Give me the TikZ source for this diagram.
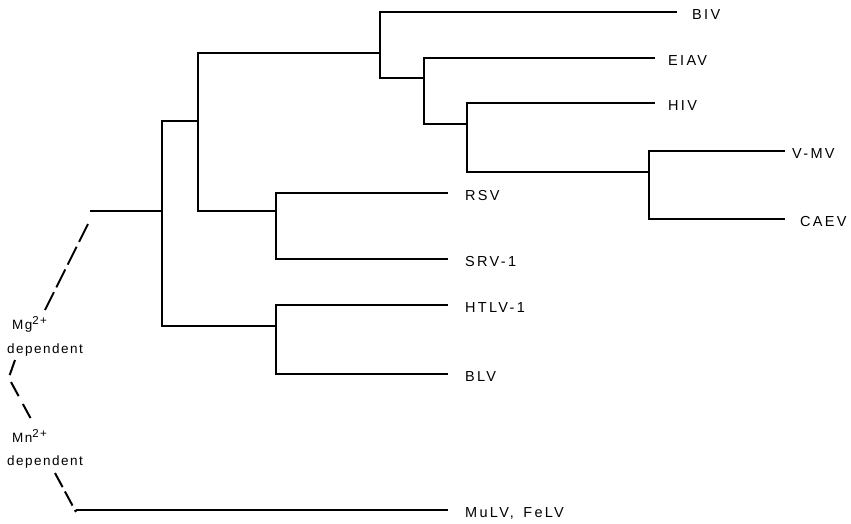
\documentclass[tikz,border=0pt]{standalone}
\usepackage{fontspec}
\setmainfont{Liberation Sans}[LetterSpace=16]
\newcommand{\supx}[1]{\raisebox{5pt}{\fontsize{11.5}{11.5}\selectfont #1}}
\begin{document}
\begin{tikzpicture}[x=1pt,y=-1pt,
  br/.style={line width=2pt},
  dsh/.style={line width=2pt,dash pattern=on 20pt off 5.4pt},
  lab/.style={anchor=base west,inner sep=0pt,font=\fontsize{14.5}{16}\selectfont},
  sm/.style={anchor=base west,inner sep=0pt,font=\fontsize{13.5}{15}\selectfont\addfontfeature{LetterSpace=11}}]
\useasboundingbox (0,0) rectangle (851,523);
% junctions
\coordinate (r0) at (90,211);
\coordinate (j1) at (162,211);
\coordinate (j2) at (198,121);
\coordinate (j3) at (380,53);
\coordinate (j4) at (424,78);
\coordinate (j5) at (467,124);
\coordinate (j6) at (649,172);
\coordinate (j7) at (276,211);
\coordinate (j8) at (276,326);
% leaf ends
\coordinate (eBIV) at (677,12);
\coordinate (eEIAV) at (655,58);
\coordinate (eHIV) at (655,103);
\coordinate (eVMV) at (785,151);
\coordinate (eCAEV) at (785,219);
\coordinate (eRSV) at (448,193);
\coordinate (eSRV) at (448,259);
\coordinate (eHTLV) at (448,305);
\coordinate (eBLV) at (448,374);
\coordinate (m0) at (76,510);
\coordinate (eMuLV) at (448,510);
% tree
\draw[br] (r0) -- (j1);
\draw[br] (j1) |- (j2);
\draw[br] (j1) |- (j8);
\draw[br] (j2) |- (j3);
\draw[br] (j2) |- (j7);
\draw[br] (j3) |- (eBIV);
\draw[br] (j3) |- (j4);
\draw[br] (j4) |- (eEIAV);
\draw[br] (j4) |- (j5);
\draw[br] (j5) |- (eHIV);
\draw[br] (j5) |- (j6);
\draw[br] (j6) |- (eVMV);
\draw[br] (j6) |- (eCAEV);
\draw[br] (j7) |- (eRSV);
\draw[br] (j7) |- (eSRV);
\draw[br] (j8) |- (eHTLV);
\draw[br] (j8) |- (eBLV);
\draw[br] (m0) -- (eMuLV);
% labels
\node[lab] (BIV) at ([xshift=15pt,yshift=-7.5pt]eBIV) {BIV};
\node[lab] (EIAV) at ([xshift=13pt,yshift=-7.5pt]eEIAV) {EIAV};
\node[lab] (HIV) at ([xshift=13pt,yshift=-7.5pt]eHIV) {HIV};
\node[lab] (VMV) at ([xshift=7pt,yshift=-7.5pt]eVMV) {V-MV};
\node[lab] (CAEV) at ([xshift=15pt,yshift=-7.5pt]eCAEV) {CAEV};
\node[lab] (RSV) at ([xshift=17pt,yshift=-7.5pt]eRSV) {RSV};
\node[lab] (SRV) at ([xshift=17pt,yshift=-7.5pt]eSRV) {SRV-1};
\node[lab] (HTLV) at ([xshift=17pt,yshift=-7.5pt]eHTLV) {HTLV-1};
\node[lab] (BLV) at ([xshift=17pt,yshift=-7.5pt]eBLV) {BLV};
\node[lab] (MuLV) at ([xshift=17pt,yshift=-7.5pt]eMuLV) {MuLV,\hspace{3pt} FeLV};
% metal dependence
\node[sm] (Mg) at (12,329) {Mg\supx{2+}};
\node[sm] (Mgd) at (7,353) {dependent};
\node[sm] (Mn) at (12,442) {Mn\supx{2+}};
\node[sm] (Mnd) at (7,465) {dependent};
\coordinate (d1a) at (88,224);
\coordinate (d1b) at (45,310);
\coordinate (d2a) at (15,360);
\coordinate (d2v) at (9,377);
\coordinate (d2b) at (31,419);
\coordinate (d3a) at (55,473);
\coordinate (d3b) at (76,512);
\draw[dsh] (d1a) -- (d1b);
\draw[dsh,dash pattern=on 16pt off 6pt] (d2a) -- (d2v);
\draw[dsh,dash pattern=on 16pt off 9pt] (d2v) ++(2,5) -- (d2b);
\draw[dsh,dash pattern=on 16pt off 5pt] (d3a) -- (d3b);
\end{tikzpicture}
\end{document}
